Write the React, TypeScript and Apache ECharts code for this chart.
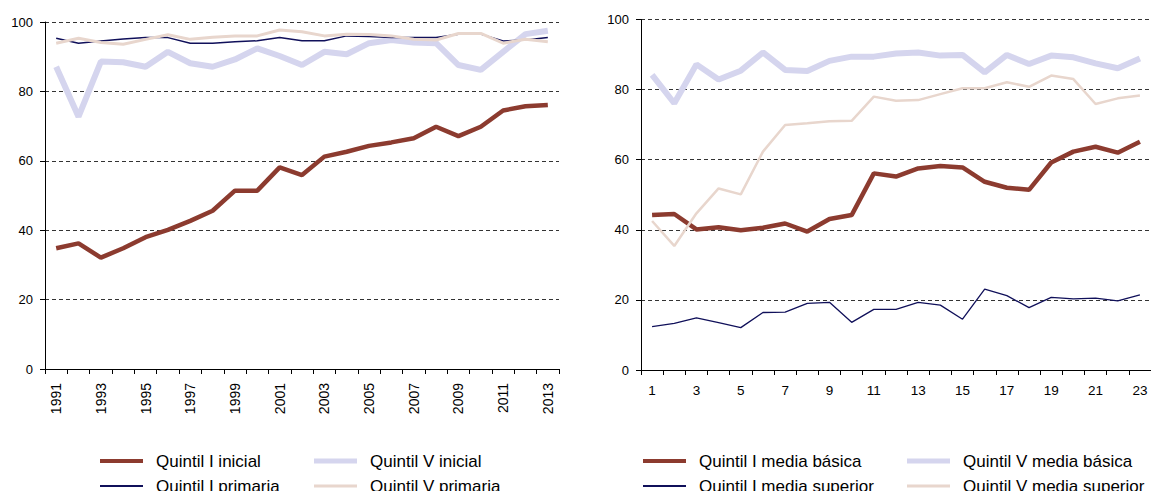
import React, { useEffect, useRef } from "react";
import * as echarts from "echarts";

const years = ["1991","1992","1993","1994","1995","1996","1997","1998","1999","2000","2001","2002","2003","2004","2005","2006","2007","2008","2009","2010","2011","2012","2013"];
const qIinicial = [34.8,36.2,32.1,34.8,38.0,40.1,42.7,45.6,51.4,51.4,58.1,55.9,61.2,62.6,64.3,65.3,66.5,69.8,67.1,69.8,74.5,75.7,76.1];
const qVinicial = [87.1,72.7,88.6,88.4,87.1,91.4,88.1,87.1,89.2,92.4,90.2,87.6,91.4,90.7,93.9,94.8,94.1,93.9,87.6,86.2,91.4,96.5,97.5];
const qIprimaria = [95.3,93.9,94.5,95.1,95.5,95.5,93.9,93.9,94.3,94.6,95.5,94.6,94.6,96.0,95.8,95.5,95.5,95.5,96.5,96.5,94.5,94.8,95.5];
const qVprimaria = [93.9,95.3,94.1,93.6,95.0,96.3,95.0,95.6,96.0,96.0,97.7,97.2,96.0,96.5,96.4,96.0,95.0,94.8,96.7,96.7,93.9,95.0,94.3];

const periods = ["1","2","3","4","5","6","7","8","9","10","11","12","13","14","15","16","17","18","19","20","21","22","23"];
const qIbasica = [44.2,44.5,40.1,40.7,39.9,40.6,41.8,39.5,43.1,44.2,56.1,55.2,57.5,58.2,57.8,53.7,52.0,51.4,59.2,62.3,63.7,62.0,65.1];
const qVbasica = [84.2,76.1,87.2,82.9,85.4,90.6,85.6,85.3,88.2,89.4,89.4,90.3,90.6,89.7,89.9,84.9,89.9,87.3,89.7,89.2,87.5,86.1,88.9];
const qIsuperior = [12.4,13.3,14.9,13.5,12.1,16.4,16.5,19.0,19.3,13.6,17.3,17.3,19.3,18.5,14.5,23.1,21.2,17.8,20.7,20.3,20.5,19.7,21.4];
const qVsuperior = [42.5,35.4,44.7,51.8,50.1,62.3,69.9,70.4,71.0,71.1,78.0,76.8,77.0,78.7,80.4,80.4,82.1,80.8,84.0,83.0,75.9,77.5,78.3];

const yTicks = { min: 0, max: 100, interval: 20 };

const BROWN = "#8c3b2f";
const LAV = "#d5d5ee";
const NAVY = "#10105a";
const PINK = "#e8d6cd";
const FONT = "'Liberation Sans', Arial, sans-serif";

export default function App() {
  const ref = useRef<HTMLDivElement>(null);
  useEffect(() => {
    document.body.style.margin = "0";
    const chart = echarts.init(ref.current!, null, { renderer: "svg" });
    const axisText = { color: "#000", fontSize: 13, fontFamily: FONT };
    const yAxisCommon = (gi: number) => ({
      type: "value",
      gridIndex: gi,
      min: yTicks.min,
      max: yTicks.max,
      interval: yTicks.interval,
      axisLine: { show: true, lineStyle: { color: "#000", width: 1 } },
      axisTick: { show: true, length: 5, lineStyle: { color: "#000" } },
      axisLabel: { ...axisText, margin: 12 },
      splitLine: { show: true, lineStyle: { color: "#333", type: [4, 3], width: 1 } },
    });
    const line = (name: string, data: number[], color: string, width: number, idx: number) => ({
      name,
      type: "line",
      xAxisIndex: idx,
      yAxisIndex: idx,
      data,
      symbol: "none",
      smooth: false,
      color,
      lineStyle: { color, width },
    });
    const legend = (name: string, left: number, top: number, h: number) => ({
      data: [name],
      left,
      top,
      padding: 0,
      icon: "rect",
      itemWidth: 43,
      itemHeight: h,
      selectedMode: false,
      textStyle: { fontSize: 17, fontFamily: FONT, color: "#000", padding: [0, 0, 0, 8], lineHeight: 20 },
    });
    chart.setOption({
      animation: false,
      backgroundColor: "#fff",
      grid: [
        { left: 45, top: 22, width: 514, height: 347 },
        { left: 641, top: 19.5, width: 510, height: 350.5 },
      ],
      xAxis: [
        {
          type: "category",
          gridIndex: 0,
          data: years,
          boundaryGap: true,
          axisLine: { lineStyle: { color: "#000" } },
          axisTick: { show: true, interval: 0, length: 5, lineStyle: { color: "#000" } },
          axisLabel: { ...axisText, fontSize: 14, rotate: 90, interval: 1, margin: 14 },
        },
        {
          type: "category",
          gridIndex: 1,
          data: periods,
          boundaryGap: true,
          axisLine: { lineStyle: { color: "#000" } },
          axisTick: { show: true, interval: 0, length: 5, lineStyle: { color: "#000" } },
          axisLabel: { ...axisText, fontSize: 13.5, interval: 1, margin: 13 },
        },
      ],
      yAxis: [yAxisCommon(0), yAxisCommon(1)],
      legend: [
        legend("Quintil I inicial", 100, 451, 4),
        legend("Quintil V inicial", 314, 451, 5),
        legend("Quintil I primaria", 100, 476, 2),
        legend("Quintil V primaria", 314, 476, 3),
        legend("Quintil I media básica", 643, 451, 4),
        legend("Quintil V media básica", 907, 451, 5),
        legend("Quintil I media superior", 643, 476, 2),
        legend("Quintil V media superior", 907, 476, 3),
      ],
      series: [
        line("Quintil I inicial", qIinicial, BROWN, 4.5, 0),
        line("Quintil V inicial", qVinicial, LAV, 6, 0),
        line("Quintil I primaria", qIprimaria, NAVY, 1.5, 0),
        line("Quintil V primaria", qVprimaria, PINK, 3, 0),
        line("Quintil I media básica", qIbasica, BROWN, 4.5, 1),
        line("Quintil V media básica", qVbasica, LAV, 6, 1),
        line("Quintil I media superior", qIsuperior, NAVY, 1.3, 1),
        line("Quintil V media superior", qVsuperior, PINK, 2.5, 1),
      ],
    });
    return () => chart.dispose();
  }, []);
  return <div ref={ref} style={{ width: 1151, height: 491 }} />;
}
